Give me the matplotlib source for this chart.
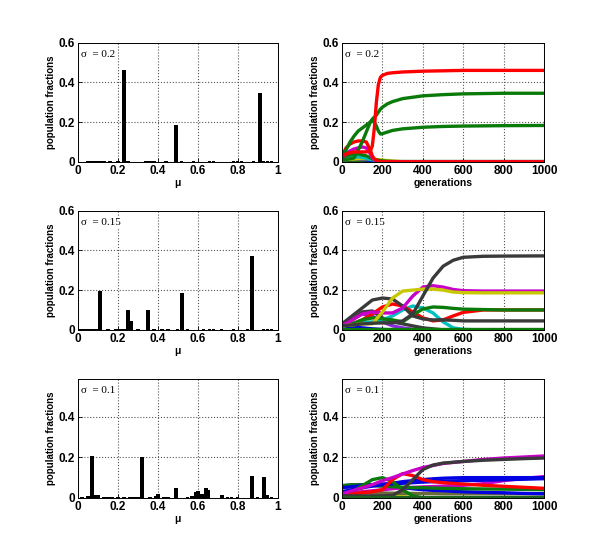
import matplotlib
matplotlib.use('Agg')
import matplotlib.pyplot as plt

# ---- left panels: final population fractions over mu ----
sigmas = ['0.2', '0.15', '0.1']

mu_02 = [0.23, 0.49, 0.91]
h_02 = [0.46, 0.185, 0.345]
mu_02_small = [0.05, 0.07, 0.09, 0.11, 0.13, 0.16, 0.20, 0.25, 0.34, 0.36, 0.38, 0.44,
               0.52, 0.58, 0.66, 0.68, 0.78, 0.80, 0.82, 0.88, 0.93, 0.95, 0.97]

mu_015 = [0.11, 0.25, 0.265, 0.35, 0.52, 0.87]
h_015 = [0.195, 0.10, 0.045, 0.10, 0.185, 0.37]
mu_015_small = [0.01, 0.03, 0.05, 0.07, 0.09, 0.15, 0.19, 0.21, 0.23, 0.30, 0.38, 0.42,
                0.45, 0.50, 0.55, 0.63, 0.66, 0.68, 0.72, 0.78, 0.85, 0.93, 0.95, 0.97]

mu_01 = [0.05, 0.07, 0.085, 0.10, 0.32, 0.39, 0.40, 0.49, 0.57, 0.59, 0.60, 0.62, 0.64,
         0.65, 0.72, 0.87, 0.93, 0.945]
h_01 = [0.01, 0.205, 0.015, 0.012, 0.20, 0.01, 0.02, 0.05, 0.01, 0.03, 0.035, 0.02, 0.05,
        0.04, 0.012, 0.11, 0.105, 0.015]
mu_01_small = [0.02, 0.13, 0.15, 0.17, 0.20, 0.23, 0.26, 0.28, 0.30, 0.36, 0.43, 0.45,
               0.55, 0.75, 0.77, 0.80, 0.90, 0.97]

# ---- right panels: population fractions over generations ----
gen_a = [0, 20, 40, 60, 80, 100, 120, 140, 150, 160, 170, 180, 190, 200, 225, 250, 300,
         400, 500, 600, 800, 1000]
a_red_win = [0.03, 0.04, 0.045, 0.05, 0.05, 0.05, 0.05, 0.055, 0.08, 0.17, 0.30, 0.39, 0.425,
             0.435, 0.445, 0.448, 0.452, 0.456, 0.458, 0.46, 0.46, 0.46]
a_red_hump = [0.03, 0.07, 0.09, 0.10, 0.105, 0.105, 0.10, 0.06, 0.03, 0.015, 0.008, 0.004,
              0.002, 0.001, 0, 0, 0, 0, 0, 0, 0, 0]
a_green_low = [0.02, 0.06, 0.10, 0.13, 0.155, 0.17, 0.185, 0.20, 0.205, 0.20, 0.18, 0.155,
               0.14, 0.142, 0.15, 0.158, 0.166, 0.174, 0.178, 0.18, 0.182, 0.183]
a_green_high = [0.01, 0.012, 0.015, 0.02, 0.06, 0.10, 0.15, 0.20, 0.215, 0.225, 0.235, 0.25,
                0.265, 0.275, 0.292, 0.303, 0.318, 0.332, 0.338, 0.342, 0.345, 0.345]
a_magenta = [0.02, 0.04, 0.055, 0.065, 0.07, 0.075, 0.07, 0.04, 0.02, 0.01, 0.005, 0.002, 0,
             0, 0, 0, 0, 0, 0, 0, 0, 0]
a_dkgreen = [0.02, 0.03, 0.035, 0.04, 0.04, 0.035, 0.03, 0.02, 0.015, 0.012, 0.01, 0.008,
             0.006, 0.005, 0.003, 0.001, 0, 0, 0, 0, 0, 0]
a_cyan = [0.015, 0.02, 0.022, 0.025, 0.025, 0.022, 0.018, 0.012, 0.01, 0.008, 0.006, 0.004,
          0.002, 0.001, 0, 0, 0, 0, 0, 0, 0, 0]
a_yellow = [0.01, 0.012, 0.013, 0.014, 0.015, 0.015, 0.015, 0.015, 0.014, 0.013, 0.012, 0.011,
            0.01, 0.009, 0.006, 0.004, 0.001, 0, 0, 0, 0, 0]
a_blue = [0.01, 0.013, 0.015, 0.015, 0.014, 0.012, 0.01, 0.008, 0.007, 0.006, 0.005, 0.005,
          0.005, 0.005, 0.003, 0.002, 0, 0, 0, 0, 0, 0]
a_zero = [0.003] * len(gen_a)

gen_b = [0, 50, 100, 150, 200, 250, 300, 350, 400, 450, 500, 550, 600, 700, 800, 1000]
b_gray_win = [0.02, 0.025, 0.03, 0.033, 0.035, 0.035, 0.045, 0.08, 0.17, 0.26, 0.32, 0.35,
              0.365, 0.37, 0.371, 0.372]
b_gray_hump = [0.03, 0.07, 0.11, 0.15, 0.16, 0.155, 0.12, 0.07, 0.055, 0.05, 0.05, 0.048,
               0.045, 0.045, 0.045, 0.045]
b_gray_small = [0.02, 0.05, 0.09, 0.095, 0.06, 0.04, 0.03, 0.02, 0.01, 0.005, 0, 0, 0, 0, 0, 0]
b_magenta = [0.02, 0.05, 0.08, 0.09, 0.085, 0.085, 0.11, 0.17, 0.215, 0.222, 0.215, 0.203,
             0.197, 0.195, 0.195, 0.195]
b_yellow = [0.02, 0.025, 0.03, 0.03, 0.09, 0.16, 0.195, 0.20, 0.205, 0.205, 0.20, 0.19, 0.187,
            0.186, 0.186, 0.186]
b_red = [0.02, 0.03, 0.05, 0.08, 0.115, 0.13, 0.12, 0.09, 0.06, 0.045, 0.05, 0.07, 0.088,
         0.10, 0.10, 0.10]
b_green = [0.02, 0.03, 0.05, 0.06, 0.055, 0.05, 0.04, 0.075, 0.105, 0.115, 0.113, 0.108,
           0.104, 0.102, 0.10, 0.10]
b_cyan = [0.02, 0.025, 0.035, 0.04, 0.05, 0.07, 0.10, 0.12, 0.11, 0.085, 0.04, 0.01, 0.002,
          0, 0, 0]
b_purple = [0.03, 0.05, 0.08, 0.07, 0.04, 0.02, 0.01, 0.003, 0, 0, 0, 0, 0, 0, 0, 0]
b_blue = [0.02, 0.015, 0.01, 0.005, 0.002, 0, 0, 0, 0, 0, 0, 0, 0, 0, 0, 0]
b_zero = [0.003] * len(gen_b)

gen_c = [0, 50, 100, 150, 200, 250, 300, 350, 400, 450, 500, 600, 700, 800, 900, 1000]
c_magenta = [0.02, 0.035, 0.05, 0.065, 0.085, 0.10, 0.118, 0.135, 0.15, 0.16, 0.17, 0.18,
             0.19, 0.197, 0.202, 0.207]
c_gray = [0.01, 0.01, 0.01, 0.01, 0.01, 0.012, 0.04, 0.09, 0.14, 0.162, 0.172, 0.18, 0.186,
          0.19, 0.194, 0.197]
c_red = [0.02, 0.02, 0.025, 0.03, 0.04, 0.09, 0.12, 0.11, 0.09, 0.08, 0.075, 0.068, 0.062,
         0.057, 0.052, 0.047]
c_green_hump = [0.01, 0.03, 0.06, 0.09, 0.10, 0.08, 0.04, 0.01, 0, 0, 0, 0, 0, 0, 0, 0]
c_green_flat = [0.06, 0.065, 0.063, 0.06, 0.058, 0.055, 0.053, 0.05, 0.05, 0.048, 0.047,
                0.045, 0.044, 0.043, 0.042, 0.04]
c_blue_up = [0.03, 0.04, 0.05, 0.058, 0.065, 0.072, 0.08, 0.085, 0.09, 0.094, 0.097, 0.10,
             0.10, 0.10, 0.10, 0.10]
c_blue_mid = [0.05, 0.055, 0.06, 0.065, 0.068, 0.07, 0.072, 0.075, 0.078, 0.08, 0.082, 0.085,
              0.087, 0.09, 0.092, 0.095]
c_blue_down = [0.06, 0.063, 0.065, 0.063, 0.06, 0.055, 0.05, 0.045, 0.04, 0.037, 0.035, 0.03,
               0.027, 0.025, 0.022, 0.02]
c_magenta2 = [0.02, 0.025, 0.03, 0.035, 0.04, 0.045, 0.05, 0.052, 0.054, 0.056, 0.058, 0.062,
              0.07, 0.085, 0.096, 0.105]
c_yellow = [0.03, 0.04, 0.035, 0.02, 0.01, 0.007, 0.005, 0.003, 0, 0, 0, 0, 0, 0, 0, 0]
c_olive = [0.02, 0.022, 0.025, 0.025, 0.024, 0.023, 0.022, 0.022, 0.021, 0.021, 0.02, 0.02,
           0.02, 0.02, 0.02, 0.02]
c_zero = [0.004] * len(gen_c)

RED = '#ff0000'
GREEN = '#0a7a0a'
DKGREEN = '#1f5f1f'
MAGENTA = '#c800c8'
CYAN = '#00c0c0'
YELLOW = '#c8c800'
BLUE = '#0000e0'
GRAY = '#3a3a3a'
PURPLE = '#8a2be2'
OLIVE = '#6b6b3a'

left_data = [(mu_02, h_02, mu_02_small), (mu_015, h_015, mu_015_small),
             (mu_01, h_01, mu_01_small)]
right_data = [
    (gen_a, [(a_zero, DKGREEN), (a_blue, BLUE), (a_yellow, YELLOW), (a_cyan, CYAN),
             (a_dkgreen, GREEN), (a_magenta, MAGENTA), (a_red_hump, RED),
             (a_green_low, GREEN), (a_green_high, GREEN), (a_red_win, RED)]),
    (gen_b, [(b_blue, BLUE), (b_purple, PURPLE), (b_gray_small, GRAY), (b_cyan, CYAN),
             (b_red, RED), (b_green, GREEN), (b_gray_hump, GRAY), (b_magenta, MAGENTA),
             (b_yellow, YELLOW), (b_gray_win, GRAY), (b_zero, GREEN)]),
    (gen_c, [(c_yellow, YELLOW), (c_olive, OLIVE), (c_blue_down, BLUE), (c_magenta2, MAGENTA),
             (c_green_flat, GREEN), (c_blue_mid, BLUE), (c_blue_up, BLUE),
             (c_green_hump, GREEN), (c_red, RED),
             (c_magenta, MAGENTA), (c_gray, GRAY), (c_zero, DKGREEN)]),
]

plt.rcParams['font.family'] = ['Liberation Sans', 'DejaVu Sans']

fig = plt.figure(figsize=(6, 5.6), dpi=100)

rows_bottom = [0.711, 0.411, 0.111]
row_h = 0.213
ylims = [0.6, 0.6, 0.59]
left_x, right_x = 0.130, 0.570
w_left, w_right = 0.333, 0.337


def style(ax, ytop):
    ax.set_ylim(0, ytop)
    ax.set_yticks([0, 0.2, 0.4, 0.6] if ytop >= 0.6 else [0, 0.2, 0.4])
    ax.set_yticklabels(['0', '0.2', '0.4', '0.6'][:len(ax.get_yticks())])
    ax.grid(True, linestyle=':', color='#555555', linewidth=0.8)
    ax.set_axisbelow(True)
    ax.tick_params(direction='in', length=3, width=0.6, labelsize=8.5, pad=2)
    for lab in ax.get_xticklabels() + ax.get_yticklabels():
        lab.set_fontweight('bold')
    for sp in ax.spines.values():
        sp.set_linewidth(0.7)
    ax.set_ylabel('population fractions', fontsize=7, fontweight='bold', labelpad=2)


for i, sig in enumerate(sigmas):
    # left: bars over mu
    ax = fig.add_axes([left_x, rows_bottom[i], w_left, row_h])
    mus, hs, small = left_data[i]
    ax.bar(small, [0.005] * len(small), width=0.016, color='black')
    ax.bar(mus, hs, width=0.017, color='black')
    ax.set_xlim(0, 1)
    ax.set_xticks([0, 0.2, 0.4, 0.6, 0.8, 1])
    ax.set_xticklabels(['0', '0.2', '0.4', '0.6', '0.8', '1'])
    style(ax, ylims[i])
    ax.set_xlabel('μ', fontsize=7.5, fontweight='bold', labelpad=1)
    ax.text(0.015, 0.9, 'σ  = ' + sig, transform=ax.transAxes, fontsize=8,
            family='Liberation Serif', va='center', ha='left',
            bbox=dict(facecolor='white', edgecolor='none', pad=0.5))

    # right: trajectories over generations
    ax = fig.add_axes([right_x, rows_bottom[i], w_right, row_h])
    gens, series = right_data[i]
    for vals, col in series:
        ax.plot(gens, vals, color=col, linewidth=2.4, solid_capstyle='round')
    ax.set_xlim(0, 1000)
    ax.set_xticks([0, 200, 400, 600, 800, 1000])
    style(ax, ylims[i])
    ax.set_xlabel('generations', fontsize=7.5, fontweight='bold', labelpad=1)
    ax.text(0.015, 0.9, 'σ  = ' + sig, transform=ax.transAxes, fontsize=8,
            family='Liberation Serif', va='center', ha='left',
            bbox=dict(facecolor='white', edgecolor='none', pad=0.5))

fig.savefig('out.png', dpi=100)
